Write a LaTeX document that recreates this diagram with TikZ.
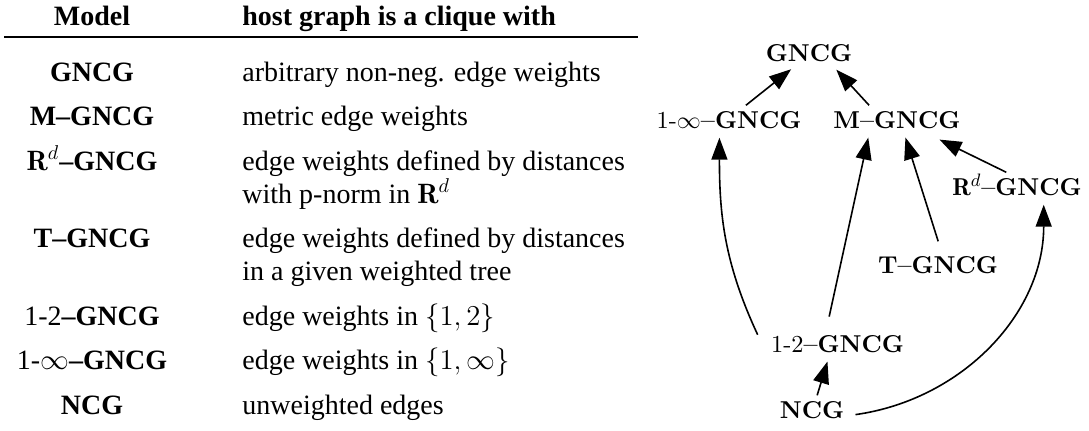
\documentclass[tikz,border=0pt]{standalone}
\usepackage{fontspec}
\usepackage{amsmath}
\usetikzlibrary{arrows.meta}
\newfontfamily\tabfont{Liberation Serif}
\newfontfamily\grafont{lmroman10-regular}[Extension=.otf,BoldFont=lmroman10-bold]

\begin{document}
\begin{tikzpicture}[x=0.5pt,y=0.5pt,
  tabhead/.style={font=\tabfont\fontsize{14}{16}\selectfont\bfseries,inner sep=0pt},
  tabmodel/.style={font=\tabfont\fontsize{14}{16}\selectfont\bfseries,inner sep=0pt,anchor=base},
  tabtext/.style={font=\tabfont\fontsize{14}{16}\selectfont,inner sep=0pt,anchor=base west},
  model/.style={font=\grafont\fontsize{12.2}{14}\selectfont\bfseries,inner sep=2.5pt,text height=8.8pt,text depth=0pt},
  imp/.style={-{Triangle[length=11pt,width=8pt]},line width=0.8pt,shorten >=2pt}]
\useasboundingbox (0,0) rectangle (1089,430);
% table
\node[tabhead,anchor=base] (hmodel) at (92,405) {Model};
\node[tabhead,anchor=base west] (hhost) at (242,405) {host graph is a clique with};
\draw[line width=1.2pt] (4,393) -- (638,393);
\node[tabmodel] (m1) at (92,349) {GNCG};
\node[tabtext] (d1) at (242,349) {arbitrary non-neg. edge weights};
\node[tabmodel] (m2) at (92,304.5) {M–GNCG};
\node[tabtext] (d2) at (242,304.5) {metric edge weights};
\node[tabmodel] (m3) at (92,260) {$\mathbf{R}^d$–GNCG};
\node[tabtext] (d3) at (242,260) {edge weights defined by distances};
\node[tabtext] (d3b) at (242,227) {with p-norm in $\mathbf{R}^d$};
\node[tabmodel] (m4) at (92,182.5) {T–GNCG};
\node[tabtext] (d4) at (242,182.5) {edge weights defined by distances};
\node[tabtext] (d4b) at (242,149.5) {in a given weighted tree};
\node[tabmodel] (m5) at (92,105) {{\mdseries 1-2}–GNCG};
\node[tabtext] (d5) at (242,105) {edge weights in $\{1,2\}$};
\node[tabmodel] (m6) at (92,60.5) {{\mdseries 1-$\infty$}–GNCG};
\node[tabtext] (d6) at (242,60.5) {edge weights in $\{1,\infty\}$};
\node[tabmodel] (m7) at (92,16) {NCG};
\node[tabtext] (d7) at (242,16) {unweighted edges};
% hierarchy
\node[model] (gncg) at (809,377.5) {GNCG};
\node[model] (inf) at (729,310.5) {{\mdseries 1-$\infty$}–GNCG};
\node[model] (met) at (897,310.5) {M–GNCG};
\node[model] (rd) at (1017,243.5) {$\mathbf{R}^d$–GNCG};
\node[model] (tree) at (938,165.5) {T–GNCG};
\node[model] (onetwo) at (837.5,86.5) {{\mdseries 1-2}–GNCG};
\node[model] (ncg) at (812,20.5) {NCG};
\draw[imp] (inf.40) -- (gncg.224);
\draw[imp] (met.153) -- (gncg.-30);
\draw[imp] ([xshift=-4pt]onetwo.173) to[out=115,in=-90] (inf.236);
\draw[imp,shorten <=6.5pt] (onetwo.128) -- (met.207);
\draw[imp,shorten <=4.7pt] (tree.78) -- (met.-63);
\draw[imp,shorten >=6.7pt] (rd.127) -- (met.-25);
\draw[imp] (ncg.70) -- (onetwo.238);
\draw[imp,shorten <=3pt] (ncg.-9) to[out=8,in=-90] (rd.-28);
\end{tikzpicture}
\end{document}
